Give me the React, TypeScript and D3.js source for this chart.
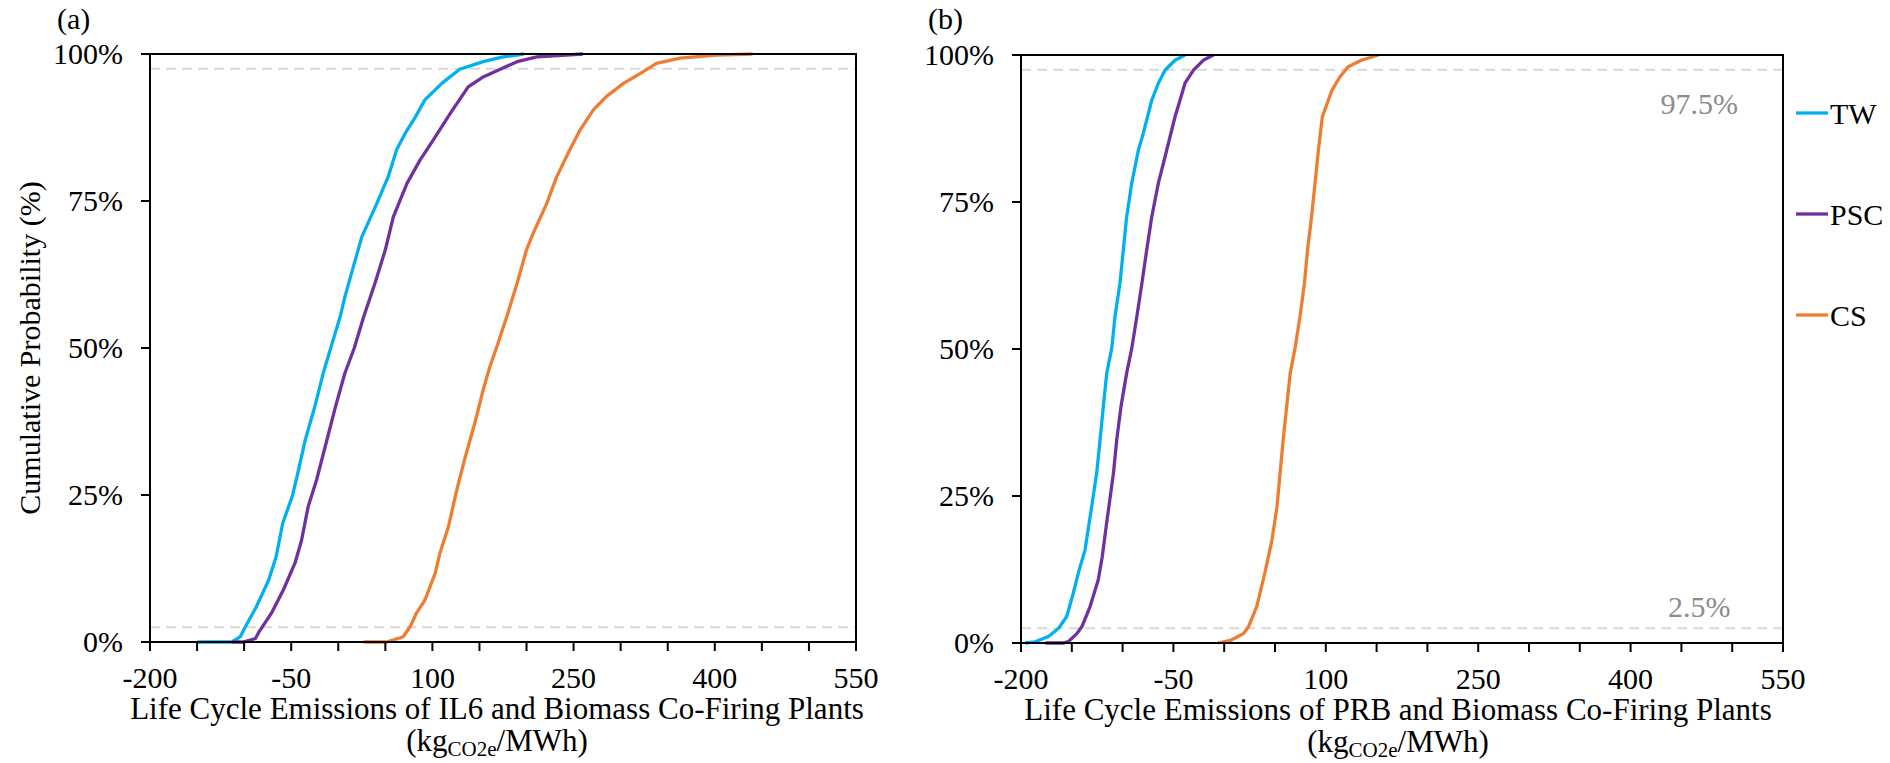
import React from 'react';
import * as d3 from 'd3';

const W = 1890;
const H = 763;

const seriesNames = ['TW', 'PSC', 'CS'];
const seriesColors = ['#00B0F0', '#7030A0', '#ED7D31'];

const xTicks = [-200, -150, -100, -50, 0, 50, 100, 150, 200, 250, 300, 350, 400, 450, 500, 550];
const xTickLabels = [-200, -50, 100, 250, 400, 550];
const yTicks = [0, 25, 50, 75, 100];
const refLevels = [2.5, 97.5];

// Panel (a): IL6 and biomass co-firing — [emission kgCO2e/MWh, cumulative %]
const il6TW: [number, number][] = [
  [-150, 0], [-113, 0], [-104, 0.9], [-99, 2.5], [-87, 6], [-74, 10.5], [-66, 14.5], [-59, 20.2],
  [-49, 24.7], [-43, 28.7], [-35, 34.4], [-25, 40], [-16, 45.7], [-8, 50], [2, 55.3], [7, 58.7],
  [16, 63.8], [25, 68.9], [41, 74.6], [53, 79.1], [62, 83.7], [71, 86.5], [82, 89.3], [92, 92.2],
  [110, 95], [129, 97.4], [154, 98.7], [175, 99.5], [197, 100],
];
const il6PSC: [number, number][] = [
  [-113, 0], [-101, 0], [-88, 0.6], [-85, 1.5], [-81, 2.5], [-71, 4.9], [-58.5, 8.8], [-46, 13.4],
  [-39, 17.3], [-32, 23], [-23, 27.6], [-12, 34.4], [-3, 40], [7, 45.7], [17, 50], [27, 55.3],
  [39, 61], [50, 66.7], [58.5, 72.3], [73, 78], [87, 82], [101, 85.4], [119, 89.9], [138, 94.4],
  [154, 96.1], [172, 97.4], [190, 98.7], [211, 99.5], [260, 100],
];
const il6CS: [number, number][] = [
  [27, 0], [51.5, 0], [69, 0.9], [76, 2.5], [83, 4.9], [92, 7.1], [103, 11.7], [108, 15.1],
  [117, 19.6], [126, 25.9], [135, 31.5], [145, 37.2], [154, 42.9], [161, 46.8], [168, 50], [179, 55.3],
  [190, 61], [200, 66.7], [207, 69.5], [221.5, 74.6], [232, 79.1], [246, 83.7], [257, 87.1], [271, 90.5],
  [285, 92.8], [303, 95], [321, 96.7], [338, 98.4], [363, 99.3], [402, 99.8], [440, 100],
];

// Panel (b): PRB and biomass co-firing
const prbTW: [number, number][] = [
  [-196, 0], [-186, 0.2], [-173, 1.1], [-163, 2.5], [-155, 4.5], [-148.5, 8.5], [-143.6, 11.9],
  [-137, 15.8], [-130.4, 23.2], [-125.5, 28.9], [-122.2, 34.5], [-119, 40.2], [-115.6, 45.9],
  [-110.7, 50.1], [-107.5, 55.5], [-102.6, 61.2], [-99.3, 66.8], [-96, 72.5], [-91, 78.2],
  [-84.5, 83.8], [-79.6, 86.7], [-71.3, 92.3], [-64.8, 95.2], [-58.3, 97.4], [-48.4, 99.1], [-38.6, 100],
];
const prbPSC: [number, number][] = [
  [-176, 0], [-158, 0], [-153, 0.3], [-145, 1.6], [-140, 2.8], [-132, 6.2], [-124, 10.7], [-120, 14.7],
  [-115.7, 20.4], [-109, 28.9], [-105.8, 34.5], [-101.6, 40.2], [-96, 45.9], [-91, 50.1], [-86, 55.5],
  [-81, 61.2], [-76.3, 66.8], [-71.3, 72.5], [-64.8, 78.2], [-56.6, 83.8], [-48.4, 89.5], [-43.5, 92.3],
  [-38.6, 95.2], [-30.4, 97.4], [-20.6, 99.1], [-10.7, 100],
];
const prbCS: [number, number][] = [
  [-6, 0], [7, 0.5], [19, 1.6], [24, 2.8], [32, 6.2], [40, 11.9], [47, 17.5], [52, 23.2], [55, 28.9],
  [58, 34.5], [61.5, 40.2], [65, 45.9], [69.7, 50.1], [74.6, 55.5], [79, 61.2], [82, 66.8], [86, 72.5],
  [89.4, 78.2], [92.7, 83.8], [96.6, 89.5], [106, 94], [114, 96.3], [122, 98], [135, 99.1], [152, 100],
];

const FONT = '"Liberation Serif", "Times New Roman", "DejaVu Serif", serif';
const textStyle = { fontFamily: FONT };

type PanelProps = {
  left: number; right: number; top: number; bottom: number;
  data: [number, number][][];
  plantName: string;
  tag: string;
  titleCx: number;
  showYTitle: boolean;
  showRefLabels: boolean;
};

function Panel(p: PanelProps) {
  const x = d3.scaleLinear().domain([-200, 550]).range([p.left, p.right]);
  const y = d3.scaleLinear().domain([0, 100]).range([p.bottom, p.top]);
  const line = d3.line<[number, number]>().x(d => x(d[0])).y(d => y(d[1]));
  const refX = p.left + (p.right - p.left) * 0.89;
  return (
    <g>
      {refLevels.map(r => (
        <line key={r} x1={p.left} x2={p.right} y1={y(r)} y2={y(r)} stroke="#d9d9d9" strokeWidth={2} strokeDasharray="10,6" />
      ))}
      {p.showRefLabels && (
        <g fill="#8c8c8c" fontSize={30} textAnchor="middle">
          <text style={textStyle} x={refX} y={y(97.5) + 44}>97.5%</text>
          <text style={textStyle} x={refX} y={y(2.5) - 11}>2.5%</text>
        </g>
      )}
      {p.data.map((d, i) => (
        <path key={i} d={line(d) || ''} fill="none" stroke={seriesColors[i]} strokeWidth={3.3} strokeLinejoin="round" />
      ))}
      <rect x={p.left} y={p.top} width={p.right - p.left} height={p.bottom - p.top} fill="none" stroke="#000" strokeWidth={2} />
      {yTicks.map(t => (
        <g key={t}>
          <line x1={p.left - 9} x2={p.left} y1={y(t)} y2={y(t)} stroke="#000" strokeWidth={2} />
          <text style={textStyle} x={p.left - 27} y={y(t) + 10} fontSize={30} textAnchor="end">{t}%</text>
        </g>
      ))}
      {xTicks.map(t => (
        <line key={t} x1={x(t)} x2={x(t)} y1={p.bottom} y2={p.bottom + 9} stroke="#000" strokeWidth={2} />
      ))}
      {xTickLabels.map(t => (
        <text style={textStyle} key={t} x={x(t)} y={p.bottom + 46} fontSize={30} textAnchor="middle">{t}</text>
      ))}
      <text style={textStyle} x={p.titleCx} y={p.bottom + 77} fontSize={31} textAnchor="middle">
        {`Life Cycle Emissions of ${p.plantName} and Biomass Co-Firing Plants`}
      </text>
      <text style={textStyle} x={p.titleCx} y={p.bottom + 109} fontSize={31} textAnchor="middle">
        (kg<tspan fontSize={21} dy={5}>CO2e</tspan><tspan dy={-5}>/MWh)</tspan>
      </text>
      <text style={textStyle} x={p.left - 93} y={29} fontSize={30}>{p.tag}</text>
      {p.showYTitle && (
        <text style={textStyle} transform={`translate(${p.left - 110},${(p.top + p.bottom) / 2}) rotate(-90)`} fontSize={30} textAnchor="middle">
          Cumulative Probability (%)
        </text>
      )}
    </g>
  );
}

export default function App() {
  const legendY = [113, 214, 315];
  return (
    <svg width={W} height={H} style={{ position: 'absolute', left: 0, top: 0, background: '#fff', fontFamily: FONT }}>
      <rect x={0} y={0} width={W} height={H} fill="#fff" />
      <Panel left={150} right={856} top={54} bottom={642} data={[il6TW, il6PSC, il6CS]} plantName="IL6" tag="(a)"
        titleCx={497} showYTitle={true} showRefLabels={false} />
      <Panel left={1021} right={1783} top={55} bottom={643} data={[prbTW, prbPSC, prbCS]} plantName="PRB" tag="(b)"
        titleCx={1398} showYTitle={false} showRefLabels={true} />
      <g fontSize={30}>
        {seriesNames.map((n, i) => (
          <g key={n}>
            <line x1={1796} x2={1828} y1={legendY[i]} y2={legendY[i]} stroke={seriesColors[i]} strokeWidth={3.3} />
            <text style={textStyle} x={1830} y={legendY[i] + 11}>{n}</text>
          </g>
        ))}
      </g>
    </svg>
  );
}
